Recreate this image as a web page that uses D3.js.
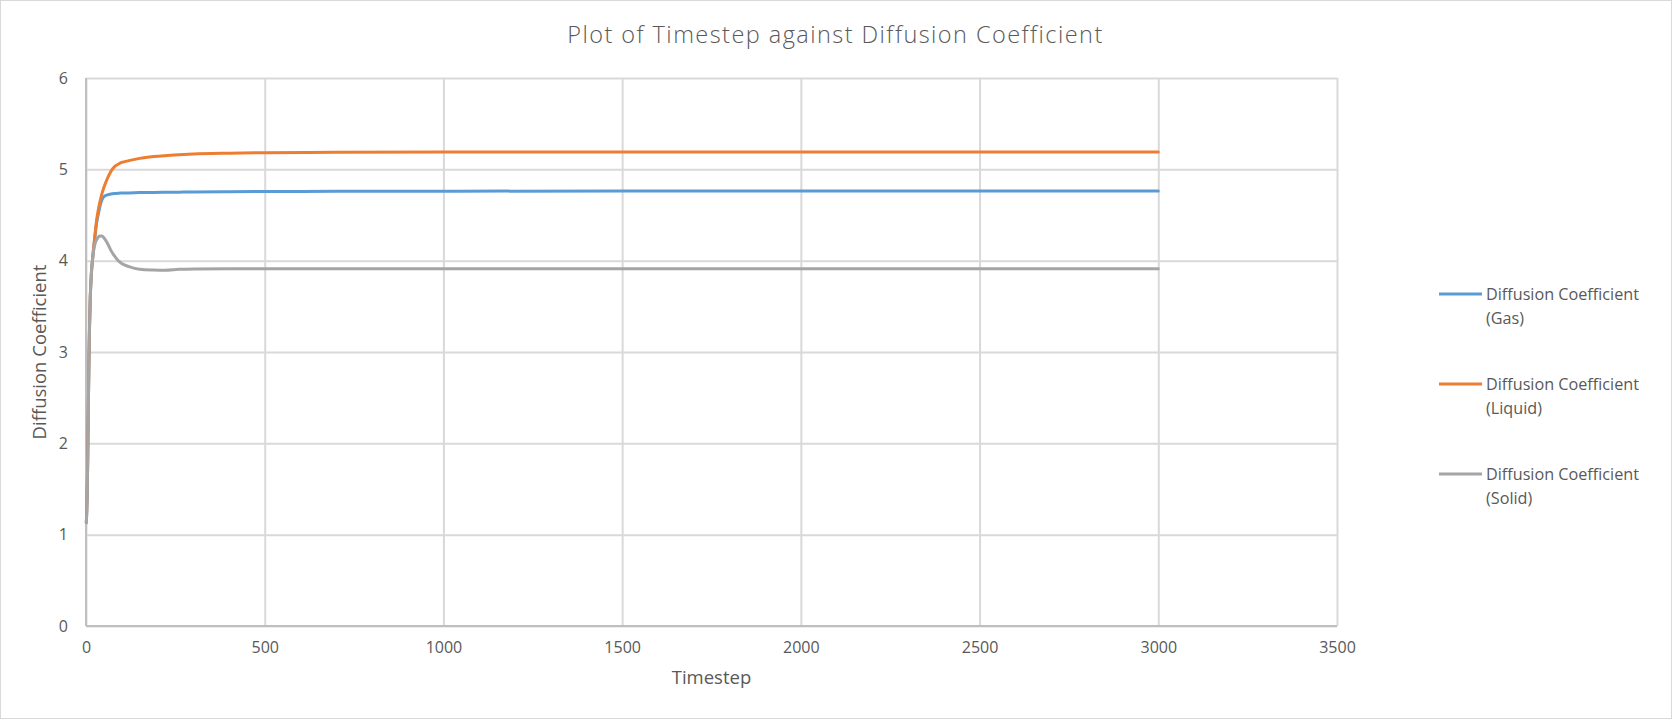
<!DOCTYPE html>
<html>
<head>
<meta charset="utf-8">
<script src="https://cdn.jsdelivr.net/npm/d3@7"></script>
<style>
  html, body { margin: 0; padding: 0; background: #fff; }
  svg { display: block; }
  text { font-family: "Open Sans", "Segoe UI", sans-serif; fill: #595959; }
</style>
</head>
<body>
<svg id="chart" width="1672" height="719"></svg>
<script>
// ---- data ----
const timesteps = [1,4,6,8,10,12,15,18,21,25,30,35,40,45,50,60,70,80,90,100,120,150,190,220,260,300,400,500,700,1000,1500,2000,2500,3000];
const gas    = [1.13,1.6,2.2,2.85,3.3,3.6,3.85,4.0,4.12,4.26,4.42,4.52,4.61,4.67,4.70,4.72,4.73,4.735,4.738,4.74,4.742,4.745,4.747,4.748,4.75,4.752,4.755,4.757,4.759,4.761,4.762,4.763,4.763,4.763];
const liquid = [1.13,1.6,2.2,2.85,3.3,3.61,3.87,4.0,4.13,4.28,4.45,4.57,4.66,4.74,4.80,4.90,4.98,5.03,5.055,5.075,5.095,5.12,5.14,5.15,5.16,5.168,5.177,5.182,5.186,5.189,5.19,5.19,5.19,5.19];
const solid  = [1.13,1.6,2.2,2.85,3.3,3.6,3.85,4.0,4.1,4.18,4.23,4.26,4.27,4.27,4.25,4.19,4.11,4.05,4.0,3.97,3.935,3.905,3.897,3.895,3.905,3.91,3.912,3.912,3.912,3.912,3.912,3.912,3.912,3.912];
const seriesNames = ["Diffusion Coefficient (Gas)", "Diffusion Coefficient (Liquid)", "Diffusion Coefficient (Solid)"];
const xTicks = [0,500,1000,1500,2000,2500,3000,3500];
const yTicks = [0,1,2,3,4,5,6];
const titleText = "Plot of Timestep against Diffusion Coefficient";
const xTitle = "Timestep";
const yTitle = "Diffusion Coefficient";

// ---- layout ----
const W = 1672, H = 719;
const plot = { left: 86, right: 1337, top: 78, bottom: 626 };
const colors = ["#5B9BD5", "#ED7D31", "#A5A5A5"];

const svg = d3.select("#chart");

// chart-area border
svg.append("rect").attr("x", 0.5).attr("y", 0.5).attr("width", W - 1).attr("height", H - 1)
  .attr("fill", "#fff").attr("stroke", "#d9d9d9").attr("stroke-width", 1);

const x = d3.scaleLinear().domain([0, 3500]).range([plot.left, plot.right]);
const y = d3.scaleLinear().domain([0, 6]).range([plot.bottom, plot.top]);

// gridlines
const gY = svg.append("g").attr("transform", `translate(${plot.left},0)`)
  .call(d3.axisLeft(y).tickValues(yTicks).tickSize(-(plot.right - plot.left)).tickFormat(""));
gY.select(".domain").remove();
gY.selectAll("line").attr("stroke", "#d9d9d9").attr("stroke-width", 2);

const gX = svg.append("g").attr("transform", `translate(0,${plot.bottom})`)
  .call(d3.axisBottom(x).tickValues(xTicks).tickSize(-(plot.bottom - plot.top)).tickFormat(""));
gX.select(".domain").remove();
gX.selectAll("line").attr("stroke", "#d9d9d9").attr("stroke-width", 2);

// axis lines
svg.append("line").attr("x1", plot.left).attr("x2", plot.left).attr("y1", plot.top).attr("y2", plot.bottom)
  .attr("stroke", "#bfbfbf").attr("stroke-width", 2);
svg.append("line").attr("x1", plot.left).attr("x2", plot.right).attr("y1", plot.bottom).attr("y2", plot.bottom)
  .attr("stroke", "#bfbfbf").attr("stroke-width", 2);

// tick labels via axes
const axL = svg.append("g").attr("transform", `translate(${plot.left},0)`)
  .call(d3.axisLeft(y).tickValues(yTicks).tickSize(0).tickPadding(18).tickFormat(d3.format("d")));
axL.select(".domain").remove();
axL.selectAll("text").attr("font-size", 16).attr("fill", "#595959")
  .style("font-family", '"Open Sans", sans-serif');

const axB = svg.append("g").attr("transform", `translate(0,${plot.bottom})`)
  .call(d3.axisBottom(x).tickValues(xTicks).tickSize(0).tickPadding(16).tickFormat(d3.format("d")));
axB.select(".domain").remove();
axB.selectAll("text").attr("font-size", 16).attr("fill", "#595959")
  .style("font-family", '"Open Sans", sans-serif');

// series
const allSeries = [gas, liquid, solid];
const line = d3.line().x((d, i) => x(timesteps[i])).y(d => y(d)).curve(d3.curveMonotoneX);
allSeries.forEach((vals, k) => {
  svg.append("path").datum(vals).attr("d", line)
    .attr("fill", "none").attr("stroke", colors[k]).attr("stroke-width", 3)
    .attr("stroke-linejoin", "round").attr("stroke-linecap", "round");
});

// title
svg.append("text").attr("x", (plot.left + plot.right) / 2 + 124).attr("y", 43)
  .attr("text-anchor", "middle").attr("font-size", 23.5).attr("font-weight", 300)
  .attr("letter-spacing", 1.45).text(titleText);

// axis titles
svg.append("text").attr("x", (plot.left + plot.right) / 2).attr("y", 684)
  .attr("text-anchor", "middle").attr("font-size", 18.5).text(xTitle);
svg.append("text").attr("transform", `translate(46,${(plot.top + plot.bottom) / 2}) rotate(-90)`)
  .attr("text-anchor", "middle").attr("font-size", 18.5).text(yTitle);

// legend
const legendY = [294, 384, 474];
seriesNames.forEach((name, k) => {
  const g = svg.append("g");
  g.append("line").attr("x1", 1439).attr("x2", 1482).attr("y1", legendY[k]).attr("y2", legendY[k])
    .attr("stroke", colors[k]).attr("stroke-width", 3);
  const idx = name.indexOf("(");
  const t = g.append("text").attr("x", 1486).attr("y", legendY[k] + 6).attr("font-size", 16.2);
  t.append("tspan").attr("x", 1486).text(name.slice(0, idx).trim());
  t.append("tspan").attr("x", 1486).attr("dy", 23.5).text(name.slice(idx));
});
</script>
</body>
</html>
